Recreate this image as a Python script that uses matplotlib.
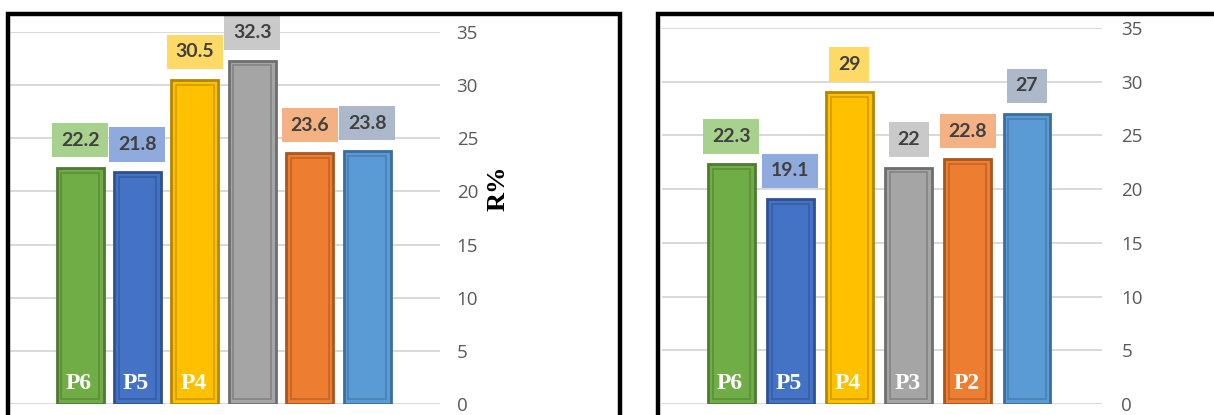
import matplotlib
matplotlib.use("Agg")
import matplotlib.pyplot as plt
from matplotlib.patches import Rectangle
import numpy as np

# ---- data ----
left_values = [22.2, 21.8, 30.5, 32.3, 23.6, 23.8]
left_names = ["P6", "P5", "P4", "", "", ""]
right_values = [22.3, 19.1, 29, 22, 22.8, 27]
right_names = ["P6", "P5", "P4", "P3", "P2", ""]
yticks = [0, 5, 10, 15, 20, 25, 30, 35]
ylabel = "R%"

bar_colors = ["#70AD47", "#4472C4", "#FFC000", "#A5A5A5", "#ED7D31", "#5B9BD5"]
edge_colors = ["#4E7A31", "#2F528F", "#B38600", "#6E6E6E", "#A9561F", "#3A6E9E"]
box_colors = ["#A9D18E", "#8FAADC", "#FFD966", "#C9C9C9", "#F4B183", "#ADB9CA"]

W, H = 1214, 415
fig = plt.figure(figsize=(W / 100, H / 100), dpi=100)


def fx(px):
    return px / W


def fy(py):
    return 1 - py / H


def draw_panel(rect, values, names, xlim, width, label_pad):
    ax = fig.add_axes(rect)
    x = np.arange(len(values))
    ax.bar(x, values, width=width, color=bar_colors, edgecolor=edge_colors,
           linewidth=2.0, zorder=3)
    # bevel inner line
    vals = np.array(values, dtype=float)
    ax.bar(x, vals - 0.9, bottom=0.45, width=width * 0.8, color="none",
           edgecolor=edge_colors, linewidth=1.2, alpha=0.6, zorder=4)
    for xi, v, bc in zip(x, values, box_colors):
        txt = f"{v:g}"
        ax.annotate(txt, (xi, v), xytext=(0, 14), textcoords="offset points",
                    ha="center", va="bottom", fontsize=14, fontweight="bold",
                    family="Lato", color="#404040", zorder=5,
                    bbox=dict(boxstyle="square,pad=0.45", fc=bc, ec="none"))
    for xi, n in zip(x, names):
        if n:
            ax.annotate(n, (xi, 0), xytext=(-1, 11), textcoords="offset points",
                        ha="center", va="baseline", fontsize=17,
                        fontweight="bold", family="Liberation Serif",
                        color="white", zorder=6)
    ax.set_ylim(0, 35)
    ax.set_xlim(*xlim)
    ax.set_yticks(yticks)
    ax.yaxis.tick_right()
    ax.tick_params(axis="y", length=0, pad=label_pad, labelsize=13.5,
                   labelcolor="#595959")
    for lab in ax.get_yticklabels():
        lab.set_family("Open Sans")
    ax.set_xticks([])
    ax.grid(axis="y", color="#D9D9D9", linewidth=1.4, zorder=0)
    for s in ax.spines.values():
        s.set_visible(False)
    ax.patch.set_alpha(0)
    return ax


# left panel
axL = draw_panel([fx(10), fy(404), fx(430), fy(32) - fy(404)], left_values,
                 left_names, (-1.22, 6.27), 0.82, 12)
fig.text(fx(498), fy(188), ylabel, rotation=90, ha="center", va="center",
         fontsize=19, fontweight="bold", family="Liberation Serif", color="black")

# right panel
axR = draw_panel([fx(662), fy(404), fx(440), fy(28) - fy(404)], right_values,
                 right_names, (-1.17, 6.27), 0.79, 14)

# frames
fig.patches.append(Rectangle((fx(7.5), fy(440)), fx(612), fy(14.5) - fy(440),
                             transform=fig.transFigure, fill=False,
                             edgecolor="black", linewidth=3.2, zorder=10))
fig.patches.append(Rectangle((fx(657.5), fy(440)), fx(700), fy(14.5) - fy(440),
                             transform=fig.transFigure, fill=False,
                             edgecolor="black", linewidth=3.2, zorder=10))

fig.savefig("out.png", dpi=100, facecolor="white")
